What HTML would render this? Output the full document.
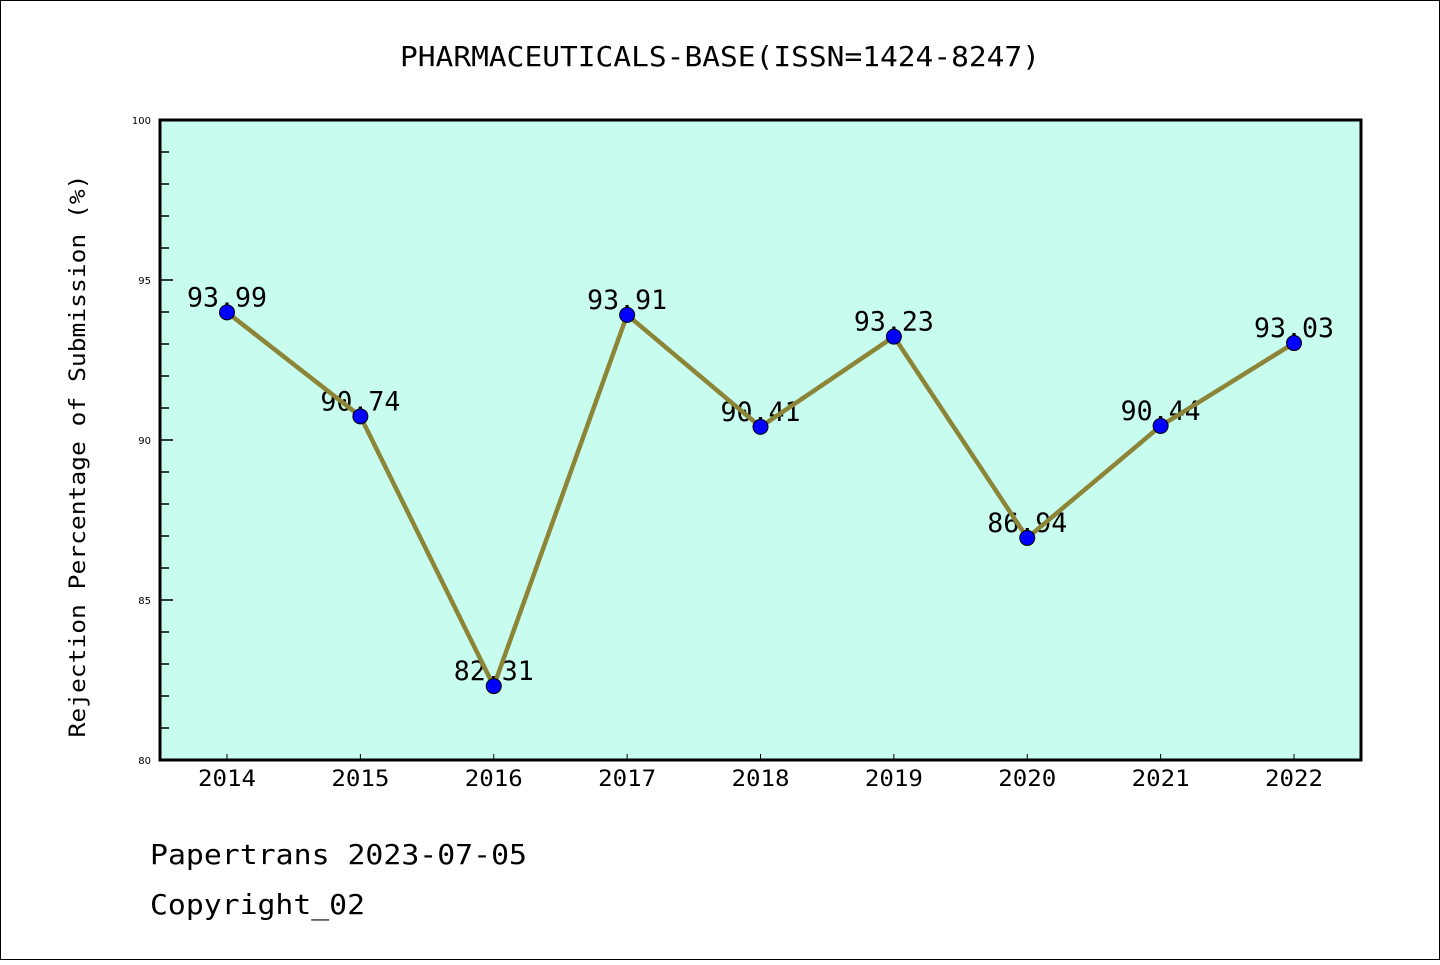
<!DOCTYPE html>
<html><head><meta charset="utf-8"><style>
body{margin:0;background:#fff}
svg text{font-family:"DejaVu Sans Mono","Liberation Mono",monospace}
</style></head><body>
<svg width="1440" height="960" xmlns="http://www.w3.org/2000/svg">
<rect x="0.5" y="0.5" width="1439" height="959" fill="#fff" stroke="#000"/>
<text x="720" y="66" font-size="28" text-anchor="middle" textLength="640" lengthAdjust="spacingAndGlyphs">PHARMACEUTICALS-BASE(ISSN=1424-8247)</text>
<rect x="160" y="120" width="1201" height="640" fill="#c8fcee"/>
<g id="ticks"></g>
<g id="series"></g>
<rect x="160" y="120" width="1201" height="640" fill="none" stroke="#000" stroke-width="3"/>
<text x="85" y="456" font-size="22" text-anchor="middle" textLength="563" lengthAdjust="spacingAndGlyphs" transform="rotate(-90 85 456)">Rejection Percentage of Submission (%)</text>
<text x="150" y="864" font-size="28" textLength="377" lengthAdjust="spacingAndGlyphs">Papertrans 2023-07-05</text>
<text x="150" y="914" font-size="28" textLength="215" lengthAdjust="spacingAndGlyphs">Copyright_02</text>
</svg>
<script>
const years=["2014","2015","2016","2017","2018","2019","2020","2021","2022"];
const values=[93.99,90.74,82.31,93.91,90.41,93.23,86.94,90.44,93.03];
const yTickLabels=[80,85,90,95,100];
const NS="http://www.w3.org/2000/svg";
const x0=160,x1=1361,y0=760,y1=120,yMin=80,yMax=100;
const xs=i=>227+i*(1294-227)/(years.length-1);
const ys=v=>y0-(v-yMin)/(yMax-yMin)*(y0-y1);
function mk(t,a,p){const e=document.createElementNS(NS,t);for(const k in a)e.setAttribute(k,a[k]);p.appendChild(e);return e;}
const tg=document.getElementById('ticks'),sg=document.getElementById('series');
for(let v=yMin;v<=yMax;v++){
 const major=yTickLabels.includes(v);
 const l=mk('line',{x1:x0,x2:x0+(major?13:9),y1:ys(v),y2:ys(v),stroke:'#000','stroke-width':1.5},tg);
 
 
 if(major){const t=mk('text',{x:x0-9,y:ys(v)+4,'font-size':10,'text-anchor':'end',style:'font-family:"DejaVu Sans",sans-serif'},tg);t.textContent=v;
 
 }
}
years.forEach((y,i)=>{
 const l=mk('line',{x1:xs(i),x2:xs(i),y1:y0,y2:y0-6,stroke:'#000','stroke-width':1},tg);
 
 
 const t=mk('text',{x:xs(i),y:y0+26,'font-size':22,'text-anchor':'middle',textLength:58,lengthAdjust:'spacingAndGlyphs'},tg);t.textContent=y;
 
 
});
values.forEach((v,i)=>{
 const t=mk('text',{x:xs(i),y:ys(v)-6,'font-size':27,'text-anchor':'middle',textLength:80,lengthAdjust:'spacingAndGlyphs'},sg);t.textContent=v.toFixed(2);
 
 
});
const pl=mk('polyline',{points:values.map((v,i)=>xs(i)+','+ys(v)).join(' '),fill:'none',stroke:'#8c8538','stroke-width':4.5},sg);


values.forEach((v,i)=>{
 const c=mk('circle',{cx:xs(i),cy:ys(v),r:7.5,fill:'#0000ff',stroke:'#000','stroke-width':1},sg);
 
 
});
</script>
</body></html>
